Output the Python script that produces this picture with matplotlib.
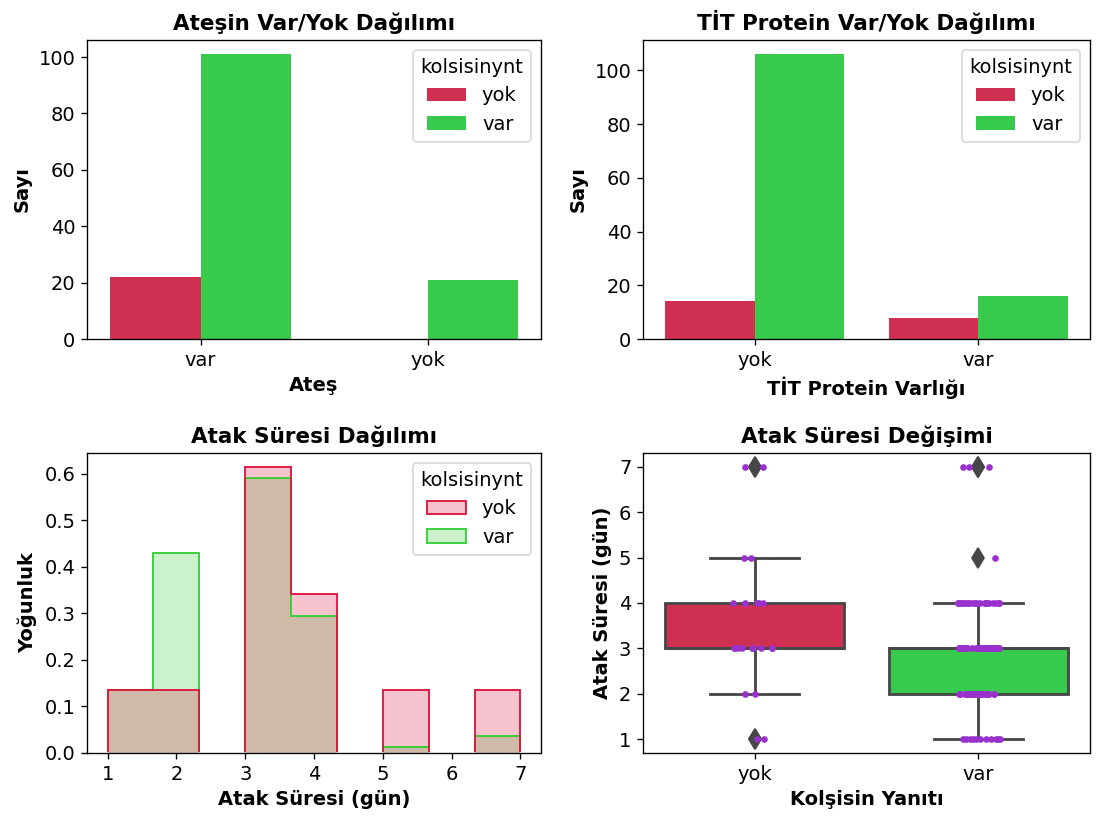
import numpy as np
import pandas as pd
import matplotlib
matplotlib.use("Agg")
import matplotlib.pyplot as plt
from matplotlib.patches import Patch
from matplotlib.colors import to_rgba
from matplotlib.transforms import Bbox
import seaborn as sns

# ---- data ----
hue_levels = ["yok", "var"]
ates_cats = ["var", "yok"]
ates_yok = [22, 0]
ates_var = [101, 21]
tit_cats = ["yok", "var"]
tit_yok = [14, 8]
tit_var = [106, 16]
atak_values = [1, 2, 3, 4, 5, 6, 7]
atak_counts_yok = [2, 2, 9, 5, 2, 0, 2]
atak_counts_var = [11, 35, 48, 24, 1, 0, 3]

bar_colors = {"yok": "#CF3052", "var": "#38CA4C"}
edge_colors = {"yok": "crimson", "var": "limegreen"}

plt.rcParams['font.family'] = ['DejaVu Sans']
plt.rcParams['font.size'] = 11.7

W, H, DPI = 1100, 816, 120
TITLE_FS, LABEL_FS, TICK_FS = 12.9, 11.7, 11.7
fig = plt.figure(figsize=(W / DPI, H / DPI), dpi=DPI)

def px_axes(x0, y0, x1, y1):
    return fig.add_axes([x0 / W, 1 - y1 / H, (x1 - x0) / W, (y1 - y0) / H])

ax_tl = px_axes(87, 40, 541, 339)
ax_tr = px_axes(643, 40, 1090, 339)
ax_bl = px_axes(87, 453, 541, 753)
ax_br = px_axes(643, 453, 1090, 753)

def countplot(ax, cats, yok, var, title, xlabel):
    x = np.arange(len(cats))
    ax.bar(x - 0.2, yok, width=0.4, color=bar_colors["yok"], label="yok")
    ax.bar(x + 0.2, var, width=0.4, color=bar_colors["var"], label="var")
    ax.set_xticks(x)
    ax.set_xticklabels(cats)
    ax.set_xlim(-0.5, len(cats) - 0.5)
    ax.set_title(title, fontsize=TITLE_FS, fontweight="bold")
    ax.set_xlabel(xlabel, fontsize=LABEL_FS, fontweight="bold")
    ax.set_ylabel("Sayı", fontsize=LABEL_FS, fontweight="bold")
    ax.legend(title="kolsisinynt", loc="upper right", fontsize=TICK_FS, title_fontsize=TICK_FS)
    ax.tick_params(labelsize=TICK_FS)

countplot(ax_tl, ates_cats, ates_yok, ates_var, "Ateşin Var/Yok Dağılımı", "Ateş")
countplot(ax_tr, tit_cats, tit_yok, tit_var, "TİT Protein Var/Yok Dağılımı", "TİT Protein Varlığı")

# ---- histogram ----
data = {
    "yok": np.repeat(atak_values, atak_counts_yok),
    "var": np.repeat(atak_values, atak_counts_var),
}
ax = ax_bl
bins = np.linspace(1, 7, 10)
edge_artists = []
for lvl in ["var", "yok"]:
    c = edge_colors[lvl]
    ax.hist(data[lvl], bins=bins, density=True, histtype="stepfilled",
            color=to_rgba(c, 0.25), linewidth=0)
    _, _, p = ax.hist(data[lvl], bins=bins, density=True, histtype="step",
                      color=c, linewidth=1.1)
    edge_artists.extend(p)
ax.set_ylim(bottom=0)
ax.set_title("Atak Süresi Dağılımı", fontsize=TITLE_FS, fontweight="bold")
ax.set_xlabel("Atak Süresi (gün)", fontsize=LABEL_FS, fontweight="bold")
ax.set_ylabel("Yoğunluk", fontsize=LABEL_FS, fontweight="bold")
handles = [Patch(facecolor=to_rgba(edge_colors[l], 0.25), edgecolor=edge_colors[l],
                 linewidth=1.1, label=l) for l in hue_levels]
ax.legend(handles=handles, title="kolsisinynt", loc="upper right", fontsize=TICK_FS, title_fontsize=TICK_FS)
ax.tick_params(labelsize=TICK_FS)

# ---- boxplot + stripplot ----
ax = ax_br
gray = "#474747"
bp = ax.boxplot([data["yok"], data["var"]], positions=[0, 1], widths=0.8,
                patch_artist=True, whis=1.5,
                boxprops=dict(edgecolor=gray, linewidth=1.7),
                medianprops=dict(color=gray, linewidth=1.7),
                whiskerprops=dict(color=gray, linewidth=1.7),
                capprops=dict(color=gray, linewidth=1.7),
                flierprops=dict(marker="d", markerfacecolor=gray, markeredgecolor=gray,
                                markersize=8.5))
for patch, lvl in zip(bp["boxes"], hue_levels):
    patch.set_facecolor(bar_colors[lvl])

strip_df = pd.DataFrame({
    "grp": np.concatenate([np.repeat("yok", len(data["yok"])), np.repeat("var", len(data["var"]))]),
    "val": np.concatenate([data["yok"], data["var"]]).astype(float),
})
np.random.seed(3)
sns.stripplot(data=strip_df, x="grp", y="val", order=hue_levels, color="darkorchid",
              size=4, jitter=True, ax=ax, zorder=5)
ax.set_xticks([0, 1])
ax.set_xticklabels(hue_levels)
ax.set_xlim(-0.5, 1.5)
ax.set_title("Atak Süresi Değişimi", fontsize=TITLE_FS, fontweight="bold")
ax.set_xlabel("Kolşisin Yanıtı", fontsize=LABEL_FS, fontweight="bold")
ax.set_ylabel("Atak Süresi (gün)", fontsize=LABEL_FS, fontweight="bold")
ax.tick_params(labelsize=TICK_FS)

# hide histogram outline segments lying on the baseline (under the spine)
fig.canvas.draw()
bb = ax_bl.bbox
clip = Bbox.from_extents(bb.x0, bb.y0 + 1.5, bb.x1, bb.y1)
for art in edge_artists:
    art.set_clip_box(clip)

fig.savefig("out.png", dpi=DPI)
